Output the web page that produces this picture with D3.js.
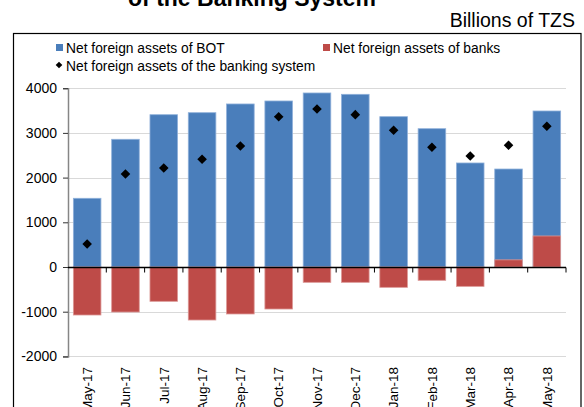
<!DOCTYPE html>
<html>
<head>
<meta charset="utf-8">
<script src="https://cdn.jsdelivr.net/npm/d3@7"></script>
<style>
  html, body { margin: 0; padding: 0; background: #fff; }
  svg { display: block; font-family: "Liberation Sans", Arial, sans-serif; }
</style>
</head>
<body>
<svg id="chart" width="584" height="407"></svg>
<script>
// Monthly categories
const months = ["May-17", "Jun-17", "Jul-17", "Aug-17", "Sep-17", "Oct-17", "Nov-17",
                "Dec-17", "Jan-18", "Feb-18", "Mar-18", "Apr-18", "May-18"];

// Net foreign assets of BOT (billions of TZS)
const botAssets = [1537, 2857, 3407, 3452, 3647, 3714, 3893, 3863, 3363, 3094, 2327, 2192, 3490];

// Net foreign assets of banks (billions of TZS)
const bankAssets = [-1074, -1007, -768, -1186, -1051, -940, -343, -343, -455, -298, -433, 160, 694];

// Net foreign assets of the banking system (billions of TZS)
const systemAssets = [515, 2081, 2215, 2409, 2707, 3363, 3535, 3408, 3058, 2678, 2483, 2722, 3148];

// Y-axis ticks
const yTicks = [-2000, -1000, 0, 1000, 2000, 3000, 4000];

const seriesNames = ["Net foreign assets of BOT", "Net foreign assets of banks",
                     "Net foreign assets of the banking system"];

const blue = "#4a7ebb", blueEdge = "#8fb0da";
const red = "#be4b48", redEdge = "#dc9896";

const svg = d3.select("#chart");

// Title (second line of a two-line heading; the first line lies above the frame)
svg.append("text")
  .attr("x", 252).attr("y", 5.5)
  .attr("text-anchor", "middle")
  .attr("font-size", 23).attr("font-weight", "bold")
  .attr("fill", "#000")
  .text("of the Banking System");

// Unit label
svg.append("text")
  .attr("x", 575).attr("y", 27)
  .attr("text-anchor", "end")
  .attr("font-size", 19.5)
  .attr("fill", "#000")
  .text("Billions of TZS");

// Chart frame
svg.append("rect")
  .attr("x", 13.5).attr("y", 33.5)
  .attr("width", 567.5).attr("height", 420)
  .attr("fill", "none").attr("stroke", "#000").attr("stroke-width", 1.2);

// Scales
const x = d3.scaleBand().domain(months).range([68, 566]).paddingInner(0.28).paddingOuter(0.14);
const y = d3.scaleLinear().domain([-2000, 4000]).range([356.4, 88.2]);

// Gridlines
svg.append("g")
  .selectAll("line")
  .data(yTicks.filter(t => t !== 0))
  .join("line")
  .attr("x1", 68).attr("x2", 566)
  .attr("y1", d => Math.round(y(d)) + 0.5).attr("y2", d => Math.round(y(d)) + 0.5)
  .attr("stroke", "#d9d9d9").attr("stroke-width", 1.2);

// Bars: BOT drawn first, banks overlaid in the same slot
const bars = svg.append("g");
bars.selectAll("rect.bot")
  .data(months)
  .join("rect")
  .attr("class", "bot")
  .attr("x", d => x(d))
  .attr("width", x.bandwidth())
  .attr("y", (d, i) => y(Math.max(0, botAssets[i])))
  .attr("height", (d, i) => Math.abs(y(botAssets[i]) - y(0)))
  .attr("fill", blue).attr("stroke", blueEdge).attr("stroke-width", 0.8);

bars.selectAll("rect.bank")
  .data(months)
  .join("rect")
  .attr("class", "bank")
  .attr("x", d => x(d))
  .attr("width", x.bandwidth())
  .attr("y", (d, i) => y(Math.max(0, bankAssets[i])))
  .attr("height", (d, i) => Math.abs(y(bankAssets[i]) - y(0)))
  .attr("fill", red).attr("stroke", redEdge).attr("stroke-width", 0.8);

// Y axis (plain hyphen for negative numbers)
const yAxis = d3.axisLeft(y).tickValues(yTicks).tickSize(5).tickPadding(6).tickFormat(d => String(d));
const gy = svg.append("g").attr("transform", "translate(68,0)").call(yAxis);
gy.select(".domain").attr("stroke", "#868686").attr("stroke-width", 1.5);
gy.selectAll(".tick line").attr("stroke", "#333");
gy.selectAll(".tick text").attr("font-size", 14).attr("fill", "#000")
  .attr("font-family", "'Liberation Sans', Arial, sans-serif");

// Zero baseline with category ticks
const step = x.step();
const baseY = Math.round(y(0)) + 0.5;
svg.append("line")
  .attr("x1", 68).attr("x2", 566)
  .attr("y1", baseY).attr("y2", baseY)
  .attr("stroke", "#000").attr("stroke-width", 1.3);
svg.append("g")
  .selectAll("line")
  .data(d3.range(1, months.length + 1))
  .join("line")
  .attr("x1", i => 68 + i * step).attr("x2", i => 68 + i * step)
  .attr("y1", baseY).attr("y2", baseY + 5)
  .attr("stroke", "#000").attr("stroke-width", 1);

// Category labels (rotated)
svg.append("g")
  .selectAll("text")
  .data(months)
  .join("text")
  .attr("transform", d => `translate(${x(d) + x.bandwidth() / 2},367) rotate(-90)`)
  .attr("text-anchor", "end")
  .attr("dy", "0.35em")
  .attr("font-size", 13.5)
  .attr("fill", "#000")
  .text(d => d);

// Banking-system markers
const diamond = d3.symbol(d3.symbolSquare, 46);
svg.append("g")
  .selectAll("path")
  .data(months)
  .join("path")
  .attr("d", diamond)
  .attr("transform", (d, i) => `translate(${x(d) + x.bandwidth() / 2},${y(systemAssets[i])}) rotate(45)`)
  .attr("fill", "#000");

// Legend
const legend = svg.append("g").attr("font-size", 13.8).attr("fill", "#000");
legend.append("rect").attr("x", 56).attr("y", 44).attr("width", 7).attr("height", 7).attr("fill", blue);
legend.append("text").attr("x", 66).attr("y", 52.5).text(seriesNames[0]);
legend.append("rect").attr("x", 323).attr("y", 44).attr("width", 7).attr("height", 7).attr("fill", red);
legend.append("text").attr("x", 333).attr("y", 52.5).text(seriesNames[1]);
legend.append("path")
  .attr("d", d3.symbol(d3.symbolSquare, 22))
  .attr("transform", "translate(59,65) rotate(45)")
  .attr("fill", "#000");
legend.append("text").attr("x", 66).attr("y", 70.5).text(seriesNames[2]);
</script>
</body>
</html>
